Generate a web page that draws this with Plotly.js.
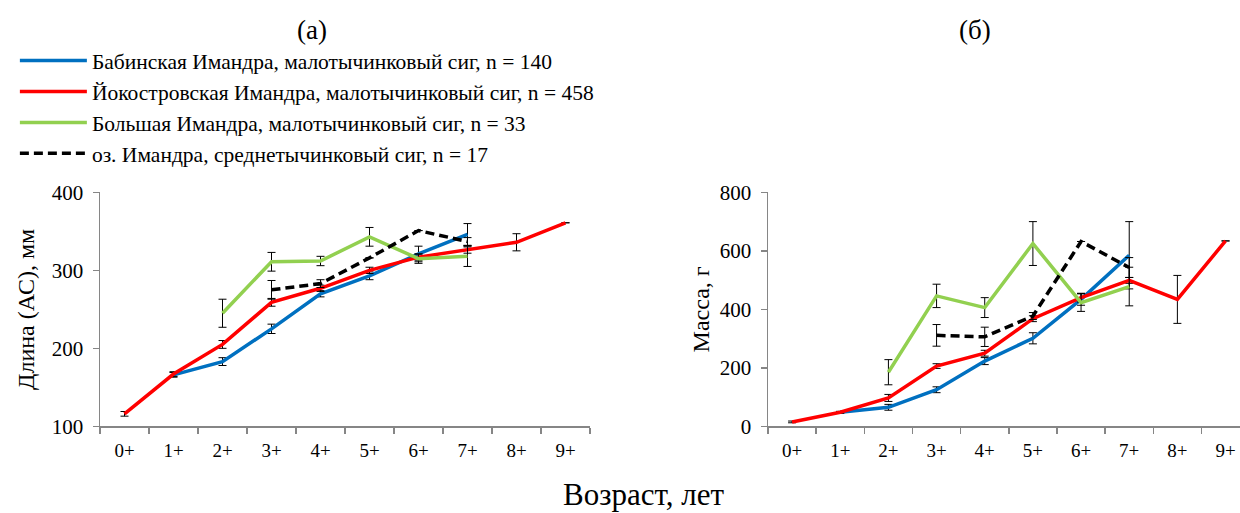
<!DOCTYPE html>
<html><head><meta charset="utf-8">
<script src="https://cdn.plot.ly/plotly-3.0.1.min.js"></script>
<style>body{margin:0;background:#fff}#c{width:1240px;height:513px}</style>
</head><body><div id="c"></div>
<script>
const ages = ['0+','1+','2+','3+','4+','5+','6+','7+','8+','9+'];
const seriesNames = [
  'Бабинская Имандра, малотычинковый сиг, n = 140',
  'Йокостровская Имандра, малотычинковый сиг, n = 458',
  'Большая Имандра, малотычинковый сиг, n = 33',
  'оз. Имандра, среднетычинковый сиг, n = 17'
];
// Length (AC), mm
const lenBabinsk   = [null,166,183,225,270,293,321,346,null,null];
const lenBabinskE  = [0,3,5,6,4,5,10,14,0,0];
const lenIokostr   = [116,167,205,259,277,300,317,326,336,361];
const lenIokostrE  = [3,3,5,5,4,4,4,4,11,0];
const lenBolshaya  = [null,null,245,311,312,343,315,318,null,null];
const lenBolshayaE = [0,0,18,12,6,12,6,13,0,0];
const lenMid       = [null,null,null,275,283,316,351,337,null,null];
const lenMidE      = [0,0,0,12,5,0,0,5,0,0];
// Mass, g
const massBabinsk   = [null,48,65,125,223,301,434,585,null,null];
const massBabinskE  = [0,3,10,10,12,19,20,115,0,0];
const massIokostr   = [15,48,97,206,250,368,440,499,434,634];
const massIokostrE  = [3,3,12,8,10,10,15,10,82,0];
const massBolshaya  = [null,null,185,446,406,625,423,478,null,null];
const massBolshayaE = [0,0,43,40,34,75,30,66,0,0];
const massMid       = [null,null,null,311,306,377,632,543,null,null];
const massMidE      = [0,0,0,37,33,12,0,34,0,0];

const colors = ['#0070C0','#FF0000','#92D050','#000000'];
const dashes = ['solid','solid','solid','9px,5px'];
const lenData = [[lenBabinsk,lenBabinskE],[lenIokostr,lenIokostrE],[lenBolshaya,lenBolshayaE],[lenMid,lenMidE]];
const massData = [[massBabinsk,massBabinskE],[massIokostr,massIokostrE],[massBolshaya,massBolshayaE],[massMid,massMidE]];

const traces = [];
function add(data, xa, ya, legend){
  data.forEach((d,i)=>{
    traces.push({
      x: ages, y: d[0], type:'scatter', mode:'lines', name: seriesNames[i],
      xaxis: xa, yaxis: ya, showlegend: legend, legendgroup: 'g'+i,
      connectgaps: false,
      line:{color:colors[i], width:3.5, dash:dashes[i]},
      error_y:{type:'data', array:d[1], visible:true, color:'#000', thickness:1, width:4}
    });
  });
}
add(lenData,'x','y',true);
add(massData,'x2','y2',false);

const FAM = 'Liberation Serif, Times New Roman, serif';
const F = (s)=>({family:FAM, size:s, color:'#000'});
const axisX = (dom, rng)=>({domain:dom, type:'category', categoryarray:ages, range:rng,
  showline:true, linecolor:'#868686', linewidth:1.5, ticks:'outside', tickson:'boundaries',
  ticklen:6, tickcolor:'#868686', tickwidth:1.5, showgrid:false, zeroline:false,
  ticklabelstandoff:6, tickfont:F(19)});
const axisY = (dom, rng, dt, title, anchor, so)=>({domain:dom, range:rng, dtick:dt, anchor:anchor,
  showline:true, linecolor:'#868686', linewidth:1.5, ticks:'outside', ticklen:6,
  tickcolor:'#868686', tickwidth:1.5, showgrid:false, zeroline:false,
  ticklabelstandoff:5, tickfont:F(21),
  title:{text:title, font:F(24), standoff:so}});

const layout = {
  width:1240, height:513, margin:{l:0,r:0,t:0,b:0},
  paper_bgcolor:'#fff', plot_bgcolor:'#fff', font:F(17),
  xaxis: axisX([100/1240, 590/1240], [-0.5, 9.5]),
  yaxis: axisY([0.169, 0.625], [100, 400], 100, 'Длина (АС), мм', 'x', 10),
  xaxis2: axisX([768/1240, 1], [-0.5, 9.3]),
  yaxis2: axisY([0.169, 0.625], [0, 800], 200, 'Масса, г', 'x2', 3),
  legend:{x:0.012, y:1-40/513, xanchor:'left', yanchor:'top', traceorder:'grouped',
    tracegroupgap:0, itemwidth:67, font:F(21.5), bgcolor:'rgba(0,0,0,0)'},
  annotations:[
    {text:'(а)', xref:'paper', yref:'paper', x:312/1240, y:1-30/513, xanchor:'center', yanchor:'middle', showarrow:false, font:F(27)},
    {text:'(б)', xref:'paper', yref:'paper', x:975/1240, y:1-30/513, xanchor:'center', yanchor:'middle', showarrow:false, font:F(27)},
    {text:'Возраст, лет', xref:'paper', yref:'paper', x:643/1240, y:1-494/513, xanchor:'center', yanchor:'middle', showarrow:false, font:F(31)}
  ]
};
Plotly.newPlot('c', traces, layout, {staticPlot:true});
</script></body></html>
